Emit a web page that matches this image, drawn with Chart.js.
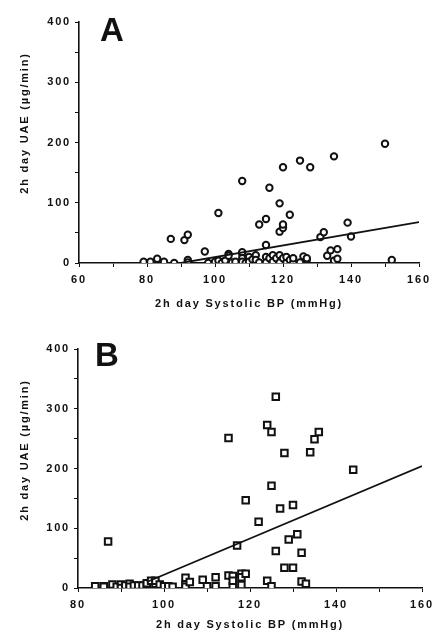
<!DOCTYPE html>
<html>
<head>
<meta charset="utf-8">
<script src="https://cdn.jsdelivr.net/npm/chart.js@4.4.1/dist/chart.umd.min.js"></script>
<style>
    body { margin: 0; background: #fff; }
    .wrap { position: relative; width: 434px; height: 633px; }
    .panel { position: absolute; left: 0; width: 434px; }
    #panelA { top: 0; height: 316px; }
    #panelB { top: 316px; height: 317px; }
    .letter {
        position: absolute;
        font-family: 'Liberation Sans', Arial, sans-serif;
        font-weight: bold;
        font-size: 33px;
        line-height: 1;
        color: #111;
    }
</style>
</head>
<body>
<div class="wrap">
    <div class="panel" id="panelA"><canvas id="chartA"></canvas></div>
    <div class="panel" id="panelB"><canvas id="chartB"></canvas></div>
    <div class="letter" style="left:100px; top:13px;">A</div>
    <div class="letter" style="left:95px; top:338px;">B</div>
</div>
<script>
// Panel A data (circles)
const aX = [79, 81, 83, 85, 88, 92, 92, 87, 91, 92, 97, 98, 100, 101, 101, 102, 103, 104, 104, 105,
    106, 108, 108, 108, 108, 108, 109, 110, 110, 111, 112, 112, 113, 113, 115, 115, 115, 115, 116, 116,
    117, 117, 118, 119, 119, 119, 119, 120, 120, 120, 120, 121, 121, 122, 122, 123, 123, 125, 125, 126,
    127, 127, 128, 131, 132, 133, 134, 135, 135, 136, 136, 139, 140, 150, 152];
const aY = [2, 2, 7, 2, 0, 5, 1, 40, 38, 47, 19, 0, 2, 4, 83, 0, 4, 15, 12, 1,
    2, 15, 18, 8, 2, 136, 0, 10, 2, 6, 13, 5, 1, 64, 73, 30, 10, 1, 125, 8,
    13, 2, 8, 13, 1, 99, 52, 58, 64, 159, 8, 1, 10, 5, 80, 1, 8, 1, 170, 11,
    5, 8, 159, 43, 51, 12, 21, 4, 177, 23, 7, 67, 44, 198, 5];
const aFitX = [90, 160];
const aFitY = [0, 68];

// Panel B data (squares)
const bX = [84, 86, 86, 87, 88, 89, 90, 90, 91, 92, 92, 93, 94, 95, 96, 96, 97, 98, 98, 99,
    100, 101, 102, 105, 105, 105, 106, 109, 110, 112, 112, 115, 115, 116, 116, 116, 117, 118, 118, 118,
    119, 119, 122, 124, 124, 125, 125, 125, 126, 126, 127, 128, 128, 129, 130, 130, 131, 132, 132, 133,
    134, 135, 136, 144];
const bY = [3, 3, 2, 78, 6, 2, 6, 0, 4, 7, 2, 4, 4, 4, 6, 8, 12, 7, 12, 6,
    3, 3, 2, 17, 6, 2, 10, 14, 3, 18, 3, 21, 251, 20, 3, 12, 71, 24, 18, 5,
    24, 147, 111, 273, 12, 261, 171, 3, 320, 62, 133, 226, 34, 81, 139, 34, 90, 59, 11, 7,
    227, 249, 261, 198];
const bFitX = [96, 160];
const bFitY = [10, 204];

// Axis titles
const xTitle = '2h day Systolic BP (mmHg)';
const yTitle = '2h day UAE (µg/min)';

const FONT = "'Liberation Sans', Arial, sans-serif";
const INK = '#111';
const SPACING = '1.8px';

// Letter spacing for the wide lettering of the original
const spacingPlugin = {
    id: 'spacing',
    beforeLayout(chart) { chart.ctx.letterSpacing = SPACING; },
    beforeDraw(chart) { chart.ctx.letterSpacing = SPACING; }
};

// Y title sits a bit above the middle of the axis in the original
const yTitlePlugin = {
    id: 'yTitle',
    afterDraw(chart, args, opts) {
        const ctx = chart.ctx;
        ctx.save();
        ctx.letterSpacing = SPACING;
        ctx.fillStyle = INK;
        ctx.font = `bold 11px ${FONT}`;
        ctx.textAlign = 'center';
        ctx.textBaseline = 'middle';
        ctx.translate(opts.x, opts.y);
        ctx.rotate(-Math.PI / 2);
        ctx.fillText(opts.text, 0, 0);
        ctx.restore();
    }
};

function toPoints(xs, ys) {
    return xs.map((x, i) => ({ x: x, y: ys[i] }));
}

// Build one scatter panel
function makePanel(id, opts) {
    const ctx = document.getElementById(id);
    return new Chart(ctx, {
        type: 'scatter',
        data: {
            datasets: [{
                data: toPoints(opts.xs, opts.ys),
                pointStyle: opts.pointStyle,
                pointRadius: opts.radius,
                pointBackgroundColor: '#fff',
                pointBorderColor: INK,
                pointBorderWidth: 2,
                order: 2
            }, {
                type: 'line',
                data: toPoints(opts.fitX, opts.fitY),
                borderColor: INK,
                borderWidth: 1.8,
                pointRadius: 0,
                fill: false,
                order: 1
            }]
        },
        options: {
            responsive: true,
            maintainAspectRatio: false,
            animation: false,
            layout: { padding: opts.padding },
            plugins: {
                legend: { display: false },
                tooltip: { enabled: false },
                yTitle: { text: yTitle, x: 25, y: opts.yTitleY }
            },
            scales: {
                x: {
                    type: 'linear',
                    min: opts.xMin,
                    max: 160,
                    afterFit: scale => {
                        scale.height = opts.xHeight;
                        // let the layout padding alone decide the plot edges
                        scale.paddingLeft = 0;
                        scale.paddingRight = 0;
                    },
                    ticks: {
                        stepSize: 10,
                        autoSkip: false,
                        maxRotation: 0,
                        padding: 6,
                        color: INK,
                        font: { family: FONT, size: 11, weight: 'bold' },
                        callback: v => (v % 20 === 0 ? v : '')
                    },
                    grid: { drawOnChartArea: false, drawTicks: true, tickLength: 4, color: INK, lineWidth: 1 },
                    border: { color: INK, width: 1.6 },
                    title: {
                        display: true,
                        text: xTitle,
                        color: INK,
                        font: { family: FONT, size: 11, weight: 'bold' },
                        padding: { top: 0, bottom: opts.xTitlePad }
                    }
                },
                y: {
                    min: 0,
                    max: 400,
                    afterFit: scale => { scale.width = opts.yWidth; },
                    ticks: {
                        stepSize: 50,
                        autoSkip: false,
                        padding: 4,
                        color: INK,
                        font: { family: FONT, size: 11, weight: 'bold' },
                        callback: v => (v % 100 === 0 ? v : '')
                    },
                    grid: { drawOnChartArea: false, drawTicks: true, tickLength: 4, color: INK, lineWidth: 1 },
                    border: { color: INK, width: 1.6 }
                }
            }
        },
        plugins: [spacingPlugin, yTitlePlugin]
    });
}

const chartA = makePanel('chartA', {
    xs: aX, ys: aY, fitX: aFitX, fitY: aFitY,
    pointStyle: 'circle', radius: 3.2,
    xMin: 60,
    padding: { left: 0, right: 15, top: 22, bottom: 0 },
    yWidth: 79, xHeight: 53, xTitlePad: 5, yTitleY: 123
});

const chartB = makePanel('chartB', {
    xs: bX, ys: bY, fitX: bFitX, fitY: bFitY,
    pointStyle: 'rect', radius: 4.6,
    xMin: 80,
    padding: { left: 0, right: 12, top: 33, bottom: 0 },
    yWidth: 78, xHeight: 45, xTitlePad: 1, yTitleY: 134
});
</script>
</body>
</html>
